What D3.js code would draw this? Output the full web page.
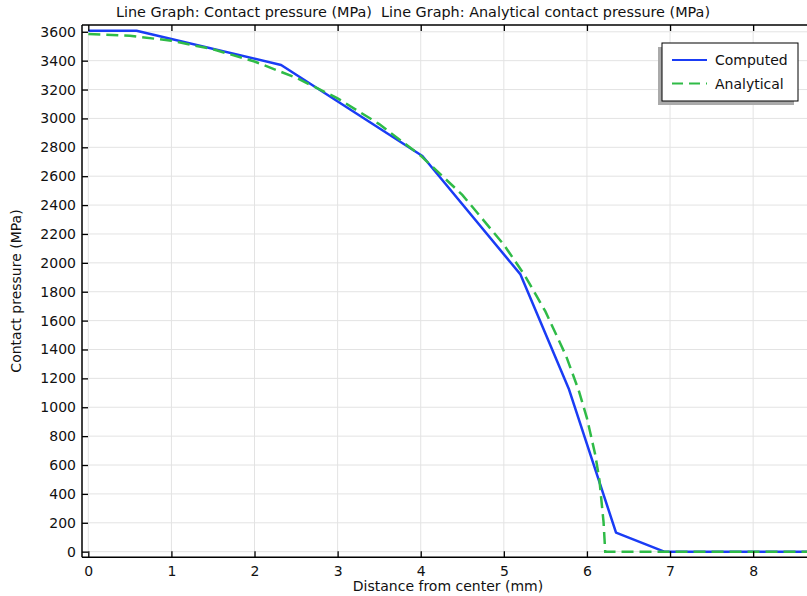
<!DOCTYPE html>
<html><head><meta charset="utf-8">
<script src="https://cdn.jsdelivr.net/npm/d3@7"></script>
<style>body{margin:0;background:#fff;} svg{display:block;font-family:"DejaVu Sans",sans-serif;} text{white-space:pre;}</style>
</head><body>
<script>
const computedX = [0, 0.58, 2.32, 4.02, 5.2, 5.78, 6.35, 6.93, 8.65];
const computedY = [3607, 3607, 3370, 2740, 1920, 1130, 132, 0, 0];
const analyticalX = [0, 0.5, 1.0, 1.5, 2.0, 2.5, 3.0, 3.5, 4.0, 4.5, 5.0, 5.25, 5.5, 5.75, 5.9, 6.0, 6.1, 6.15, 6.2, 6.22, 8.65];
const analyticalY = [3585, 3573, 3538, 3479, 3394, 3282, 3139, 2961, 2742, 2471, 2126, 1915, 1664, 1354, 1118, 925, 671, 497, 204, 0, 0];
const xTicks = [0, 1, 2, 3, 4, 5, 6, 7, 8];
const yTicks = [0, 200, 400, 600, 800, 1000, 1200, 1400, 1600, 1800, 2000, 2200, 2400, 2600, 2800, 3000, 3200, 3400, 3600];
const seriesNames = ["Computed", "Analytical"];
const titleText = "Line Graph: Contact pressure (MPa)  Line Graph: Analytical contact pressure (MPa)";
const xLabel = "Distance from center (mm)";
const yLabel = "Contact pressure (MPa)";

const W = 807, H = 596;
const L = 82, R = 807, T = 25, B = 557.3;
const svg = d3.select("body").append("svg").attr("width", W).attr("height", H);
const x = d3.scaleLinear().domain([-0.076, 8.648]).range([L, R]);
const y = d3.scaleLinear().domain([-39, 3647]).range([B, T]);

svg.append("defs").append("clipPath").attr("id","clip").append("rect")
  .attr("x", L).attr("y", T).attr("width", R - L).attr("height", B - T);

// grid
const g = svg.append("g");
g.selectAll(".gx").data(xTicks).enter().append("line")
  .attr("x1", d => x(d)).attr("x2", d => x(d)).attr("y1", T).attr("y2", B)
  .attr("stroke", "#e3e3e3").attr("stroke-width", 1);
g.selectAll(".gy").data(yTicks).enter().append("line")
  .attr("y1", d => y(d)).attr("y2", d => y(d)).attr("x1", L).attr("x2", R)
  .attr("stroke", "#e3e3e3").attr("stroke-width", 1);

// lines
const line = d3.line().x(d => x(d[0])).y(d => y(d[1]));
const comp = computedX.map((v, i) => [v, computedY[i]]);
const ana = analyticalX.map((v, i) => [v, analyticalY[i]]);
const lg = svg.append("g").attr("clip-path", "url(#clip)");
lg.append("path").attr("d", line(comp)).attr("fill", "none")
  .attr("stroke", "#1a3cf5").attr("stroke-width", 2.5).attr("stroke-linejoin", "round");
lg.append("path").attr("d", line(ana)).attr("fill", "none")
  .attr("stroke", "#2fbb47").attr("stroke-width", 2.5).attr("stroke-dasharray", "12,6");

// axes
const xAxis = d3.axisBottom(x).tickValues(xTicks).tickSize(-6).tickFormat(d3.format("d"));
const gx = svg.append("g").attr("transform", `translate(0,${B})`).call(xAxis);
const xTop = d3.axisTop(x).tickValues(xTicks).tickSize(-6).tickFormat("");
const gxt = svg.append("g").attr("transform", `translate(0,${T})`).call(xTop);
const yAxis = d3.axisLeft(y).tickValues(yTicks).tickSize(-6).tickPadding(6).tickFormat(d3.format("d"));
const gy = svg.append("g").attr("transform", `translate(${L},0)`).call(yAxis);
[gx, gxt, gy].forEach(a => {
  a.select(".domain").remove();
  a.selectAll(".tick line").attr("stroke", "#000").attr("stroke-width", 1.3);
  a.selectAll("text").attr("font-size", 14).attr("fill", "#111").attr("font-family", "DejaVu Sans");
});
gx.selectAll("text").attr("y", 19).attr("dy", null);
// frame
svg.append("line").attr("x1", L).attr("x2", R).attr("y1", B).attr("y2", B).attr("stroke", "#000").attr("stroke-width", 1.5);
svg.append("line").attr("x1", L).attr("x2", R).attr("y1", T).attr("y2", T).attr("stroke", "#000").attr("stroke-width", 1.5);
svg.append("line").attr("x1", L).attr("x2", L).attr("y1", T).attr("y2", B).attr("stroke", "#000").attr("stroke-width", 1.5);

// title and labels
svg.append("text").attr("x", 413).attr("y", 17).attr("text-anchor", "middle")
  .attr("font-size", 14.4).attr("fill", "#111").text(titleText);
svg.append("text").attr("x", 448).attr("y", 591).attr("text-anchor", "middle")
  .attr("font-size", 14).attr("fill", "#111").text(xLabel);
svg.append("text").attr("transform", "translate(21,291) rotate(-90)").attr("text-anchor", "middle")
  .attr("font-size", 14).attr("fill", "#111").text(yLabel);

// legend
const lx = 662, ly = 43, lw = 136, lh = 58;
svg.append("rect").attr("x", lx - 4).attr("y", ly + 4).attr("width", lw).attr("height", lh).attr("fill", "#aaa");
svg.append("rect").attr("x", lx).attr("y", ly).attr("width", lw).attr("height", lh)
  .attr("fill", "#fff").attr("stroke", "#000").attr("stroke-width", 1);
const colors = ["#1a3cf5", "#2fbb47"], dashes = [null, "11,6"];
seriesNames.forEach((n, i) => {
  const yy = ly + 17 + i * 23.5;
  svg.append("line").attr("x1", lx + 10).attr("x2", lx + 45).attr("y1", yy).attr("y2", yy)
    .attr("stroke", colors[i]).attr("stroke-width", 2).attr("stroke-dasharray", dashes[i]);
  svg.append("text").attr("x", lx + 53).attr("y", yy + 5).attr("font-size", 14).attr("fill", "#111").text(n);
});
</script>
</body></html>
